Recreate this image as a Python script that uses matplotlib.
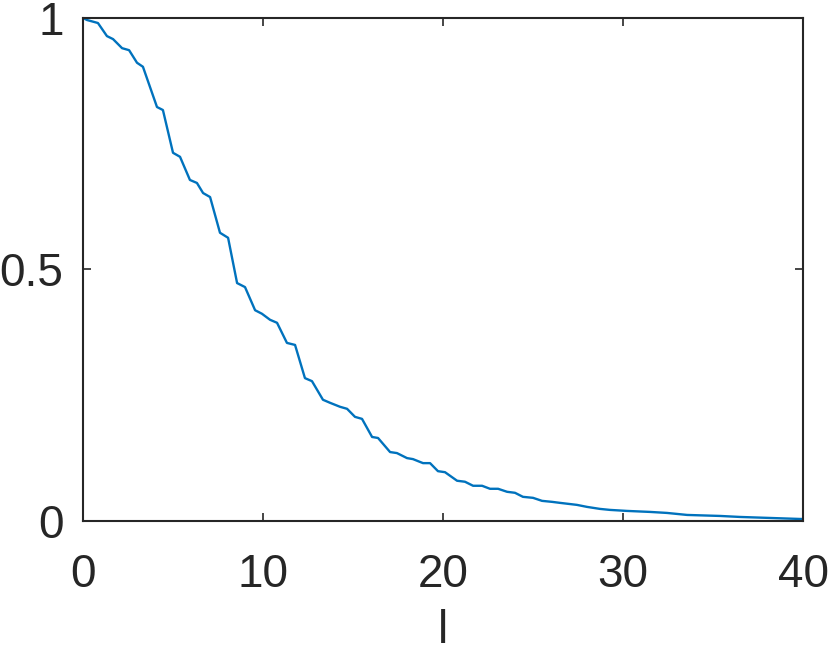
import matplotlib
matplotlib.use("Agg")
from matplotlib import pyplot as plt

# points (l, value)
l_vals = [0.0, 0.22, 0.83, 1.33, 1.67, 2.17, 2.56, 3.0, 3.33, 4.11, 4.44, 5.0, 5.39,
          5.94, 6.33, 6.67, 7.06, 7.61, 8.06, 8.56, 9.0, 9.56, 9.94, 10.39, 10.78,
          11.33, 11.78, 12.33, 12.72, 13.33, 13.72, 14.28, 14.67, 15.11, 15.5,
          16.06, 16.39, 17.06, 17.44, 18.0, 18.33, 18.89, 19.28, 19.72, 20.11,
          20.78, 21.22, 21.67, 22.17, 22.61, 23.06, 23.56, 24.0, 24.44, 25.0,
          25.5, 26.06, 26.5, 27.44, 28.0, 28.72, 29.28, 30.22, 31.5, 32.44,
          33.56, 35.39, 36.5, 38.17, 39.83, 40.0]
p_vals = [1.0, 0.996, 0.990, 0.964, 0.958, 0.940, 0.936, 0.911, 0.903, 0.823, 0.817,
          0.732, 0.724, 0.678, 0.672, 0.652, 0.644, 0.573, 0.563, 0.473, 0.465,
          0.419, 0.412, 0.400, 0.394, 0.354, 0.350, 0.284, 0.278, 0.241, 0.235,
          0.227, 0.223, 0.207, 0.203, 0.167, 0.165, 0.137, 0.135, 0.125, 0.123,
          0.115, 0.115, 0.099, 0.097, 0.080, 0.078, 0.070, 0.070, 0.064, 0.064,
          0.058, 0.056, 0.048, 0.046, 0.040, 0.038, 0.036, 0.032, 0.028, 0.024,
          0.022, 0.020, 0.018, 0.016, 0.012, 0.010, 0.008, 0.006, 0.004, 0.004]
x_ticks = [0, 10, 20, 30, 40]
y_ticks = [0, 0.5, 1]
y_tick_labels = ["0", "0.5", "1"]

plt.rcParams['font.family'] = ['Liberation Sans', 'DejaVu Sans']

fig = plt.figure(figsize=(8.3, 6.54), dpi=100)
ax = fig.add_axes([0.1, 0.2034, 0.8675, 0.7691])

ax.plot(l_vals, p_vals, color='#0072BD', linewidth=1.7)

ax.set_xlim(0, 40)
ax.set_ylim(0, 1)
ax.set_xticks(x_ticks)
ax.set_yticks(y_ticks)
ax.set_yticklabels(y_tick_labels)
ax.tick_params(direction='in', length=6, width=1.2, colors='#262626',
               labelsize=33, top=True, right=True)
ax.tick_params(axis='x', pad=23)
ax.tick_params(axis='y', pad=14)
for s in ax.spines.values():
    s.set_linewidth(1.5)
    s.set_color('#262626')

ax.set_xlabel('l', fontsize=33, color='#262626', labelpad=9)

fig.savefig('out.png', dpi=100)
